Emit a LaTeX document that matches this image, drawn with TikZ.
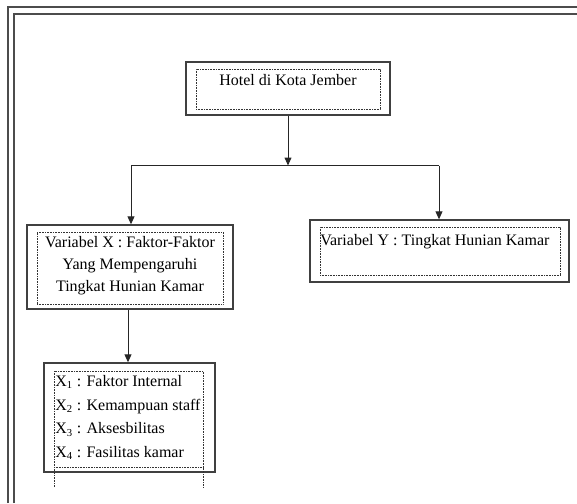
\documentclass[tikz,border=0pt]{standalone}
\usepackage{fontspec}
\setmainfont{Liberation Serif}
\usetikzlibrary{arrows.meta}
\begin{document}
\begin{tikzpicture}[x=0.75pt,y=-0.75pt,
  frame/.style={draw=black!70, line width=0.9pt},
  box/.style={draw=black!75, line width=1pt, rectangle, inner sep=0pt},
  dotbox/.style={draw=black!80, line width=0.5pt, dash pattern=on 0.6pt off 0.6pt, rectangle, inner sep=0pt},
  dotline/.style={draw=black!80, line width=0.5pt, dash pattern=on 0.6pt off 0.6pt},
  conn/.style={draw=black!85, line width=0.75pt},
  arr/.style={conn, -{Triangle[length=6pt,width=5.2pt]}},
  txt/.style={font=\fontsize{12}{16.5}\selectfont, inner sep=0pt, text=black}]
\useasboundingbox (0,0) rectangle (577,503);
% outer double frame
\draw[frame] (8,503) -- (8,7) -- (577,7);
\draw[frame] (14,503) -- (14,14) -- (577,14);
% hotel
\node[box, minimum width=204*0.75pt, minimum height=53*0.75pt] (hotel) at (288,88.5) {};
\node[dotbox, minimum width=184*0.75pt, minimum height=40*0.75pt] (hotelin) at (288,89) {};
\node[txt, anchor=base] (hoteltxt) at (288,85) {Hotel di Kota Jember};
% variabel X
\node[box, minimum width=206*0.75pt, minimum height=84*0.75pt] (varx) at (130,267) {};
\node[dotbox, minimum width=186*0.75pt, minimum height=72*0.75pt] (varxin) at (130,268) {};
\node[txt, anchor=north, align=center] (varxtxt) at (130,236.5) {Variabel X : Faktor-Faktor\\Yang Mempengaruhi\\Tingkat Hunian Kamar};
% variabel Y
\node[box, minimum width=259*0.75pt, minimum height=62*0.75pt] (vary) at (439.5,251) {};
\node[dotbox, minimum width=240*0.75pt, minimum height=48*0.75pt] (varyin) at (440,251) {};
\node[txt, anchor=base west] (varytxt) at (320,245) {Variabel Y : Tingkat Hunian Kamar};
% list of X
\node[box, minimum width=171*0.75pt, minimum height=109*0.75pt] (list) at (129.5,417.5) {};
\draw[dotline] (54,487) -- (54,371) -- (203,371) -- (203,487);
\draw[dotline] (54,467) -- (203,467);
\node[txt, anchor=north west, align=left, font=\fontsize{12}{17.8}\selectfont] (listtxt) at (55,375)
  {X\textsubscript{1} : Faktor Internal\\X\textsubscript{2} : Kemampuan staff\\X\textsubscript{3} : Aksesbilitas\\X\textsubscript{4} : Fasilitas kamar};
% connectors
\coordinate (j) at (288,165.5);
\coordinate (jl) at (131,165.5);
\coordinate (jr) at (439,165.5);
\draw[arr] (hotel.south) -- (j);
\draw[conn] (jl) -- (jr);
\draw[arr] (jl) -- (jl |- varx.north);
\draw[arr] (jr) -- (jr |- vary.north);
\draw[arr] ([xshift=-1.5pt]varx.south) -- ([xshift=-1.5pt]varx.south |- list.north);
\end{tikzpicture}
\end{document}
